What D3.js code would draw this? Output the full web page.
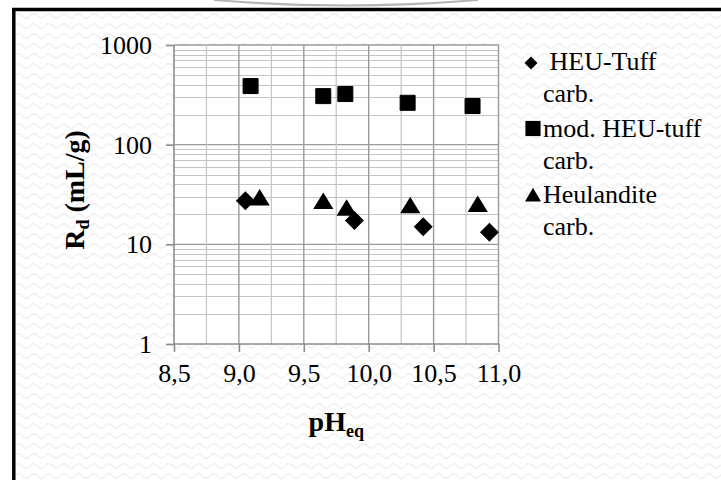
<!DOCTYPE html>
<html>
<head>
<meta charset="utf-8">
<script src="https://cdn.jsdelivr.net/npm/d3@7"></script>
<style>
  html, body { margin: 0; padding: 0; background: #fff; }
  svg { display: block; }
  text { font-family: "Liberation Serif", "Times New Roman", serif; fill: #000; }
</style>
</head>
<body>
<svg id="chart" width="721" height="480"></svg>
<script>
// Distribution ratio R_d versus equilibrium pH for three carbonate-loaded sorbents
const tuffPH = [9.05, 9.89, 10.42, 10.93];
const tuffRd = [27.4, 17.3, 15.0, 13.2];

const modTuffPH = [9.09, 9.65, 9.82, 10.30, 10.80];
const modTuffRd = [387, 307, 322, 263, 244];

const heulPH = [9.16, 9.65, 9.83, 10.32, 10.84];
const heulRd = [28.5, 26.3, 22.5, 23.8, 24.5];

const xTicks = [8.5, 9.0, 9.5, 10.0, 10.5, 11.0];
const yTicks = [1, 10, 100, 1000];

const legendLines = [
  [" HEU-Tuff", "carb."],
  ["mod. HEU-tuff", "carb."],
  ["Heulandite", "carb."]
];

const svg = d3.select("#chart");
const W = 721, H = 480;

// wavy background texture
const defs = svg.append("defs");
const pat = defs.append("pattern")
  .attr("id", "waves").attr("patternUnits", "userSpaceOnUse")
  .attr("width", 15).attr("height", 10);
pat.append("rect").attr("width", 15).attr("height", 10).attr("fill", "#fff");
pat.append("path")
  .attr("d", "M0,6 Q3.75,1.5 7.5,6 T15,6")
  .attr("fill", "none").attr("stroke", "#efefef").attr("stroke-width", 1.3);

svg.append("rect").attr("x", 0).attr("y", 0).attr("width", W).attr("height", H).attr("fill", "#fff");
svg.append("rect").attr("x", 14).attr("y", 10).attr("width", W - 14).attr("height", H - 10).attr("fill", "url(#waves)");

// decorative arc above the frame
svg.append("path")
  .attr("d", "M214,0 Q345,11 478,0")
  .attr("fill", "none").attr("stroke", "#b4b4b4").attr("stroke-width", 2.2);

// frame lines
svg.append("line").attr("x1", 12).attr("x2", W).attr("y1", 9.5).attr("y2", 9.5)
  .attr("stroke", "#000").attr("stroke-width", 3.5);
svg.append("line").attr("x1", 13.8).attr("x2", 13.8).attr("y1", 8).attr("y2", H)
  .attr("stroke", "#000").attr("stroke-width", 3.5);

// scales
const x = d3.scaleLinear().domain([8.5, 11]).range([174, 498.5]);
const y = d3.scaleLog().domain([1, 1000]).range([344, 45]);

const g = svg.append("g");
g.append("rect")
  .attr("x", x(8.5)).attr("y", y(1000))
  .attr("width", x(11) - x(8.5)).attr("height", y(1) - y(1000))
  .attr("fill", "#fff");

// horizontal grid: minor (2..9 in each decade) and decades
const minorY = [];
[1, 10, 100].forEach(d => { for (let k = 2; k <= 9; k++) minorY.push(d * k); });
g.append("g").selectAll("line").data(minorY).join("line")
  .attr("x1", x(8.5)).attr("x2", x(11))
  .attr("y1", d => Math.round(y(d)) + 0.5).attr("y2", d => Math.round(y(d)) + 0.5)
  .attr("stroke", "#c4c4c4").attr("stroke-width", 1);
g.append("g").selectAll("line").data([10, 100, 1000]).join("line")
  .attr("x1", x(8.5)).attr("x2", x(11))
  .attr("y1", d => y(d)).attr("y2", d => y(d))
  .attr("stroke", "#9a9a9a").attr("stroke-width", 1.3);

// vertical grid: minor at 0.25, major at 0.5
const minorX = d3.range(8.75, 11, 0.5);
g.append("g").selectAll("line").data(minorX).join("line")
  .attr("x1", d => x(d)).attr("x2", d => x(d))
  .attr("y1", y(1000)).attr("y2", y(1))
  .attr("stroke", "#c4c4c4").attr("stroke-width", 1.2);
g.append("g").selectAll("line").data(xTicks.slice(1)).join("line")
  .attr("x1", d => x(d)).attr("x2", d => x(d))
  .attr("y1", y(1000)).attr("y2", y(1))
  .attr("stroke", "#9a9a9a").attr("stroke-width", 1.4);

// axes
const xAxis = d3.axisBottom(x).tickValues(xTicks).tickSize(8).tickPadding(11)
  .tickFormat(d => d3.format(".1f")(d).replace(".", ","));
const yAxis = d3.axisLeft(y).tickValues(yTicks).tickSize(8).tickPadding(14)
  .tickFormat(d3.format("d"));

const gx = svg.append("g").attr("transform", `translate(0,${y(1)})`).call(xAxis);
const gy = svg.append("g").attr("transform", `translate(${x(8.5)},0)`).call(yAxis);
[gx, gy].forEach(a => {
  a.select(".domain").attr("stroke", "#8c8c8c").attr("stroke-width", 1.6);
  a.selectAll(".tick line").attr("stroke", "#8c8c8c").attr("stroke-width", 1.6);
  a.selectAll(".tick text")
    .attr("font-family", "Liberation Serif, Times New Roman, serif")
    .attr("font-size", 26).attr("fill", "#000");
});
gx.select(".domain").attr("d", `M${x(8.5)},0H${x(11)}`);
gy.select(".domain").attr("d", `M0,${y(1)}V${y(1000)}`);
gx.selectAll(".tick text").attr("dy", "0.72em");
gy.selectAll(".tick text").attr("dy", "0.33em");

// markers
const sym = {
  diamond: d3.symbol().type(d3.symbolSquare).size(180),
  square: d3.symbol().type(d3.symbolSquare).size(225),
  triangle: d3.symbol().type(d3.symbolTriangle).size(160)
};

const marks = svg.append("g");
marks.selectAll("path.tri").data(d3.zip(heulPH, heulRd)).join("path")
  .attr("class", "tri")
  .attr("d", sym.triangle())
  .attr("transform", d => `translate(${x(d[0])},${y(d[1]) + 1}) scale(1.05,1)`)
  .attr("fill", "#000");
marks.selectAll("path.dia").data(d3.zip(tuffPH, tuffRd)).join("path")
  .attr("class", "dia")
  .attr("d", sym.diamond())
  .attr("transform", d => `translate(${x(d[0])},${y(d[1])}) rotate(45)`)
  .attr("fill", "#000");
marks.selectAll("path.sq").data(d3.zip(modTuffPH, modTuffRd)).join("path")
  .attr("class", "sq")
  .attr("d", sym.square())
  .attr("transform", d => `translate(${x(d[0])},${y(d[1])})`)
  .attr("fill", "#000").attr("stroke", "#000").attr("stroke-width", 1).attr("stroke-linejoin", "round");

// axis titles
const xt = svg.append("text")
  .attr("x", (x(8.5) + x(11)) / 2).attr("y", 431)
  .attr("text-anchor", "middle").attr("font-size", 28).attr("font-weight", "bold");
xt.append("tspan").text("pH");
xt.append("tspan").attr("font-size", 18).attr("dy", 6).text("eq");

const yt = svg.append("text")
  .attr("transform", "translate(84,190) rotate(-90)")
  .attr("text-anchor", "middle").attr("font-size", 28).attr("font-weight", "bold");
yt.append("tspan").text("R");
yt.append("tspan").attr("font-size", 18).attr("dy", 5).text("d");
yt.append("tspan").attr("dy", -5).text(" (mL/g)");

// legend
const legend = svg.append("g");
const legSym = [
  d3.symbol().type(d3.symbolSquare).size(85),
  d3.symbol().type(d3.symbolSquare).size(230),
  d3.symbol().type(d3.symbolTriangle).size(110)
];
const legRot = [45, 0, 0];
const legMarkY = [63, 128.5, 197];
const legBase = [[70, 102], [137, 168.5], [203, 234.5]];
legendLines.forEach((lines, i) => {
  legend.append("path").attr("d", legSym[i]())
    .attr("transform", `translate(${i === 0 ? 531 : 533},${legMarkY[i]}) rotate(${legRot[i]})`)
    .attr("fill", "#000");
  lines.forEach((t, j) => {
    legend.append("text")
      .attr("x", 543).attr("y", legBase[i][j])
      .attr("font-size", 26)
      .attr("xml:space", "preserve")
      .style("white-space", "pre")
      .text(t);
  });
});
</script>
</body>
</html>
